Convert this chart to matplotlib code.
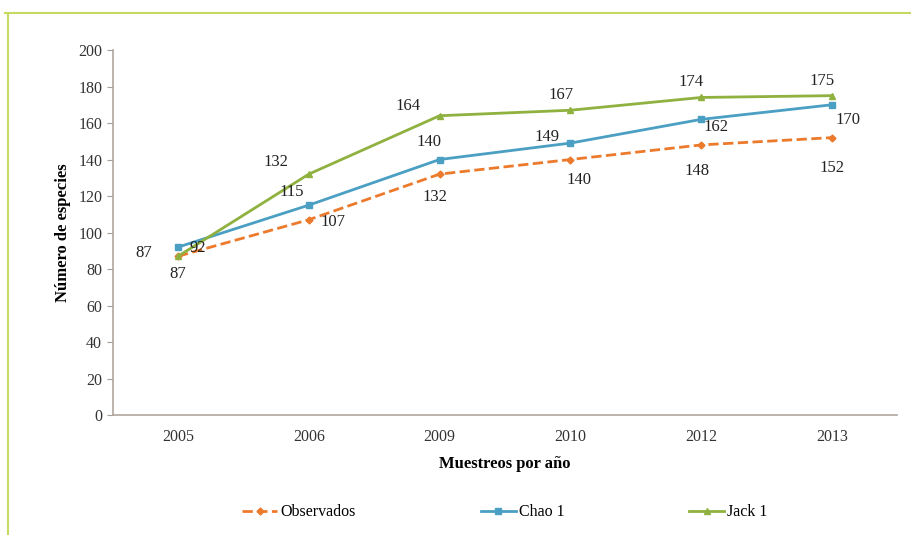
import matplotlib.pyplot as plt
from matplotlib.lines import Line2D

# datos
years = ['2005', '2006', '2009', '2010', '2012', '2013']
observados = [87, 107, 132, 140, 148, 152]
chao1 = [92, 115, 140, 149, 162, 170]
jack1 = [87, 132, 164, 167, 174, 175]

# desplazamientos de etiquetas en pixeles (dx, dy hacia abajo)
off_obs = [(0, 18), (24, 2), (-5, 23), (9, 20), (-4, 26), (0, 30)]
off_chao = [(20, 1), (-17, -13), (-11, -18), (-23, -6), (15, 8), (16, 15)]
off_jack = [(-34, -3), (-33, -12), (-32, -10), (-9, -15), (-10, -15), (-10, -15)]

plt.rcParams['font.family'] = ['Liberation Serif', 'DejaVu Serif']

fig = plt.figure(figsize=(9.12, 5.35), dpi=100)
ax = fig.add_axes([0.1235, 0.2243, 0.8605, 0.6822])

x = list(range(len(years)))
c_obs = '#ec7a2c'
c_chao = '#4a9fc3'
c_jack = '#8fb13f'

ax.plot(x, observados, color=c_obs, ls='--', lw=2, marker='D', ms=3.5, label='Observados')
ax.plot(x, chao1, color=c_chao, lw=2, marker='s', ms=4, label='Chao 1')
ax.plot(x, jack1, color=c_jack, lw=2, marker='^', ms=4, label='Jack 1')

for serie, offs in [(observados, off_obs), (chao1, off_chao), (jack1, off_jack)]:
    for i, v in enumerate(serie):
        dx, dy = offs[i]
        ax.annotate(str(v), (i, v), xytext=(dx * 0.72, -dy * 0.72), textcoords='offset points',
                    ha='center', va='center', fontsize=12, color='#222222')

ax.set_xlim(-0.5, len(years) - 0.5)
ax.set_ylim(0, 200)
ax.set_yticks(range(0, 201, 20))
ax.set_xticks(x)
ax.set_xticklabels(years)
ax.tick_params(axis='x', length=0, pad=10, labelsize=11.5, colors='#333333')
ax.tick_params(axis='y', length=4, color='#a89d94', labelsize=11.5, labelcolor='#333333')
for s in ['top', 'right']:
    ax.spines[s].set_visible(False)
for s in ['left', 'bottom']:
    ax.spines[s].set_color('#b0a69e')
    ax.spines[s].set_linewidth(1.2)

ax.set_xlabel('Muestreos por año', fontsize=12, fontweight='bold', labelpad=8)
ax.set_ylabel('Número de especies', fontsize=12, fontweight='bold', labelpad=5)

leg = ax.legend(loc='upper center', bbox_to_anchor=(0.5, -0.205), ncol=3, frameon=False,
                fontsize=11.5, columnspacing=7.8, handlelength=2.2, handletextpad=0.2)

# marco verde
W, H = 912, 535
fig.add_artist(Line2D([5 / W, 1], [1 - 13 / H, 1 - 13 / H], color='#c6da62', lw=1.5))
fig.add_artist(Line2D([8 / W, 8 / W], [0, 1 - 13 / H], color='#c6da62', lw=1.5))

fig.savefig('out.png', dpi=100)
